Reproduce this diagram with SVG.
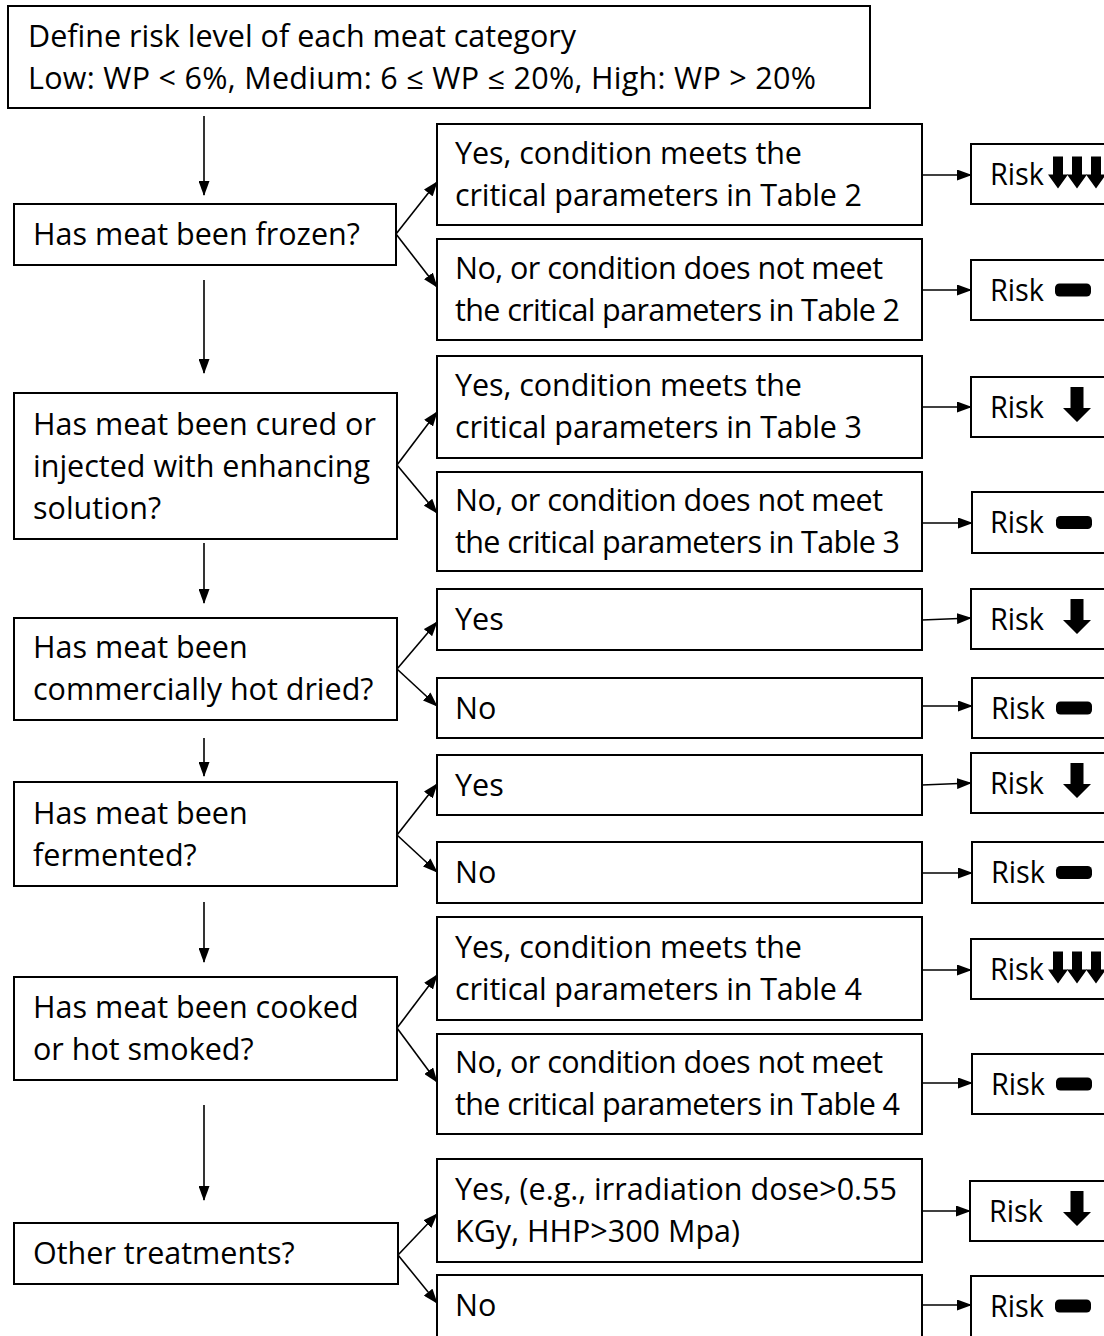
<svg xmlns="http://www.w3.org/2000/svg" width="1104" height="1336" viewBox="0 0 1104 1336">
<style>
.box{fill:#fff;stroke:#000;stroke-width:2}
.t{font-family:"Open Sans","Noto Sans",sans-serif;font-size:30.5px;fill:#000}
.c{stroke:#000;stroke-width:1.6;fill:none}
</style>
<defs>
<marker id="ah" markerUnits="userSpaceOnUse" markerWidth="15" markerHeight="11" refX="14" refY="5.5" orient="auto"><path d="M0,0 L15,5.5 L0,11 Z" fill="#000"/></marker>
<path id="down" d="M-6.5,-20 H6.5 V1 H14 L0,15 L-14,1 H-6.5 Z"/>
<path id="down3" d="M-5,-17 H5 V1 H10 L0,15 L-10,1 H-5 Z"/>
<rect id="dash" x="-22" y="-6.5" width="36" height="13" rx="4.5"/>
</defs>

<g id="n-start"><rect class="box" x="8" y="6" width="862" height="102"/>
<text class="t" x="28" y="47" textLength="548" lengthAdjust="spacing">Define risk level of each meat category</text>
<text class="t" x="28" y="89" textLength="788" lengthAdjust="spacing">Low: WP &lt; 6%, Medium: 6 ≤ WP ≤ 20%, High: WP &gt; 20%</text></g>

<g id="n-frozen"><rect class="box" x="14" y="204" width="382" height="61"/>
<text class="t" x="33" y="245">Has meat been frozen?</text></g>
<g id="n-cured"><rect class="box" x="14" y="393" width="383" height="146"/>
<text class="t" x="33" y="435">Has meat been cured or</text>
<text class="t" x="33" y="477">injected with enhancing</text>
<text class="t" x="33" y="519">solution?</text></g>
<g id="n-hotdried"><rect class="box" x="14" y="618" width="383" height="102"/>
<text class="t" x="33" y="658">Has meat been</text>
<text class="t" x="33" y="700">commercially hot dried?</text></g>
<g id="n-fermented"><rect class="box" x="14" y="782" width="383" height="104"/>
<text class="t" x="33" y="824">Has meat been</text>
<text class="t" x="33" y="866">fermented?</text></g>
<g id="n-cooked"><rect class="box" x="14" y="977" width="383" height="103"/>
<text class="t" x="33" y="1018">Has meat been cooked</text>
<text class="t" x="33" y="1060">or hot smoked?</text></g>
<g id="n-other"><rect class="box" x="14" y="1223" width="384" height="61"/>
<text class="t" x="33" y="1264">Other treatments?</text></g>

<g id="n-yes2"><rect class="box" x="437" y="124" width="485" height="101"/>
<text class="t" x="455" y="164" textLength="347" lengthAdjust="spacing">Yes, condition meets the</text>
<text class="t" x="455" y="206" textLength="407" lengthAdjust="spacing">critical parameters in Table 2</text></g>
<g id="n-no2"><rect class="box" x="437" y="239" width="485" height="101"/>
<text class="t" x="455" y="279" textLength="428" lengthAdjust="spacing">No, or condition does not meet</text>
<text class="t" x="455" y="321" textLength="445" lengthAdjust="spacing">the critical parameters in Table 2</text></g>
<g id="n-yes3"><rect class="box" x="437" y="356" width="485" height="102"/>
<text class="t" x="455" y="396" textLength="347" lengthAdjust="spacing">Yes, condition meets the</text>
<text class="t" x="455" y="438" textLength="407" lengthAdjust="spacing">critical parameters in Table 3</text></g>
<g id="n-no3"><rect class="box" x="437" y="472" width="485" height="99"/>
<text class="t" x="455" y="511" textLength="428" lengthAdjust="spacing">No, or condition does not meet</text>
<text class="t" x="455" y="553" textLength="445" lengthAdjust="spacing">the critical parameters in Table 3</text></g>
<g id="n-yes-hot"><rect class="box" x="437" y="589" width="485" height="61"/>
<text class="t" x="455" y="630">Yes</text></g>
<g id="n-no-hot"><rect class="box" x="437" y="678" width="485" height="60"/>
<text class="t" x="455" y="719">No</text></g>
<g id="n-yes-ferm"><rect class="box" x="437" y="755" width="485" height="60"/>
<text class="t" x="455" y="796">Yes</text></g>
<g id="n-no-ferm"><rect class="box" x="437" y="842" width="485" height="61"/>
<text class="t" x="455" y="883">No</text></g>
<g id="n-yes4"><rect class="box" x="437" y="917" width="485" height="103"/>
<text class="t" x="455" y="958" textLength="347" lengthAdjust="spacing">Yes, condition meets the</text>
<text class="t" x="455" y="1000" textLength="407" lengthAdjust="spacing">critical parameters in Table 4</text></g>
<g id="n-no4"><rect class="box" x="437" y="1034" width="485" height="100"/>
<text class="t" x="455" y="1073" textLength="428" lengthAdjust="spacing">No, or condition does not meet</text>
<text class="t" x="455" y="1115" textLength="445" lengthAdjust="spacing">the critical parameters in Table 4</text></g>
<g id="n-yes-other"><rect class="box" x="437" y="1159" width="485" height="103"/>
<text class="t" x="455" y="1200" textLength="442" lengthAdjust="spacing">Yes, (e.g., irradiation dose&gt;0.55</text>
<text class="t" x="455" y="1242">KGy, HHP&gt;300 Mpa)</text></g>
<g id="n-no-other"><rect class="box" x="437" y="1275" width="485" height="70"/>
<text class="t" x="455" y="1316">No</text></g>

<g id="r1"><rect class="box" x="971" y="144" width="150" height="60"/><text class="t" x="990" y="185" textLength="54" lengthAdjust="spacingAndGlyphs">Risk</text>
<use href="#down3" x="1058" y="173.5"/><use href="#down3" x="1077" y="173.5"/><use href="#down3" x="1096" y="173.5"/></g>
<g id="r2"><rect class="box" x="971" y="260" width="150" height="60"/><text class="t" x="990" y="301" textLength="54" lengthAdjust="spacingAndGlyphs">Risk</text><use href="#dash" x="1077" y="290"/></g>
<g id="r3"><rect class="box" x="971" y="377" width="150" height="60"/><text class="t" x="990" y="418" textLength="54" lengthAdjust="spacingAndGlyphs">Risk</text><use href="#down" x="1077" y="407"/></g>
<g id="r4"><rect class="box" x="972" y="492" width="150" height="61"/><text class="t" x="990" y="533" textLength="54" lengthAdjust="spacingAndGlyphs">Risk</text><use href="#dash" x="1078" y="522.5"/></g>
<g id="r5"><rect class="box" x="971" y="589" width="150" height="60"/><text class="t" x="990" y="630" textLength="54" lengthAdjust="spacingAndGlyphs">Risk</text><use href="#down" x="1077" y="619"/></g>
<g id="r6"><rect class="box" x="972" y="678" width="150" height="60"/><text class="t" x="991" y="719" textLength="54" lengthAdjust="spacingAndGlyphs">Risk</text><use href="#dash" x="1078" y="708"/></g>
<g id="r7"><rect class="box" x="971" y="753" width="150" height="60"/><text class="t" x="990" y="794" textLength="54" lengthAdjust="spacingAndGlyphs">Risk</text><use href="#down" x="1077" y="783"/></g>
<g id="r8"><rect class="box" x="972" y="842" width="150" height="61"/><text class="t" x="991" y="883" textLength="54" lengthAdjust="spacingAndGlyphs">Risk</text><use href="#dash" x="1078" y="872.5"/></g>
<g id="r9"><rect class="box" x="971" y="939" width="150" height="60"/><text class="t" x="990" y="980" textLength="54" lengthAdjust="spacingAndGlyphs">Risk</text>
<use href="#down3" x="1058" y="968.5"/><use href="#down3" x="1077" y="968.5"/><use href="#down3" x="1096" y="968.5"/></g>
<g id="r10"><rect class="box" x="972" y="1054" width="150" height="60"/><text class="t" x="991" y="1095" textLength="54" lengthAdjust="spacingAndGlyphs">Risk</text><use href="#dash" x="1078" y="1084"/></g>
<g id="r11"><rect class="box" x="970" y="1181" width="150" height="60"/><text class="t" x="989" y="1222" textLength="54" lengthAdjust="spacingAndGlyphs">Risk</text><use href="#down" x="1077" y="1211"/></g>
<g id="r12"><rect class="box" x="971" y="1276" width="150" height="70"/><text class="t" x="990" y="1317" textLength="54" lengthAdjust="spacingAndGlyphs">Risk</text><use href="#dash" x="1077" y="1306"/></g>

<g id="connectors" class="c" marker-end="url(#ah)">
<line x1="204" y1="116" x2="204" y2="195"/>
<line x1="204" y1="280" x2="204" y2="373"/>
<line x1="204" y1="543" x2="204" y2="603"/>
<line x1="204" y1="738" x2="204" y2="776"/>
<line x1="204" y1="902" x2="204" y2="962"/>
<line x1="204" y1="1105" x2="204" y2="1200"/>
<line x1="396" y1="234" x2="437" y2="182"/>
<line x1="396" y1="234" x2="437" y2="287"/>
<line x1="397" y1="465" x2="437" y2="412"/>
<line x1="397" y1="465" x2="437" y2="513"/>
<line x1="397" y1="669" x2="437" y2="622"/>
<line x1="397" y1="669" x2="437" y2="706"/>
<line x1="397" y1="835" x2="437" y2="784"/>
<line x1="397" y1="835" x2="437" y2="872"/>
<line x1="397" y1="1028" x2="437" y2="975"/>
<line x1="397" y1="1028" x2="437" y2="1082"/>
<line x1="398" y1="1255" x2="437" y2="1214"/>
<line x1="398" y1="1255" x2="437" y2="1303"/>
<line x1="922" y1="175" x2="971" y2="175"/>
<line x1="922" y1="290" x2="971" y2="290"/>
<line x1="922" y1="407" x2="971" y2="407"/>
<line x1="922" y1="523" x2="972" y2="523"/>
<line x1="922" y1="620" x2="971" y2="618"/>
<line x1="922" y1="706" x2="972" y2="706"/>
<line x1="922" y1="785" x2="971" y2="783"/>
<line x1="922" y1="873" x2="972" y2="873"/>
<line x1="922" y1="970" x2="971" y2="970"/>
<line x1="922" y1="1083" x2="972" y2="1083"/>
<line x1="922" y1="1211" x2="970" y2="1211"/>
<line x1="922" y1="1305" x2="971" y2="1305"/>
</g>
</svg>
